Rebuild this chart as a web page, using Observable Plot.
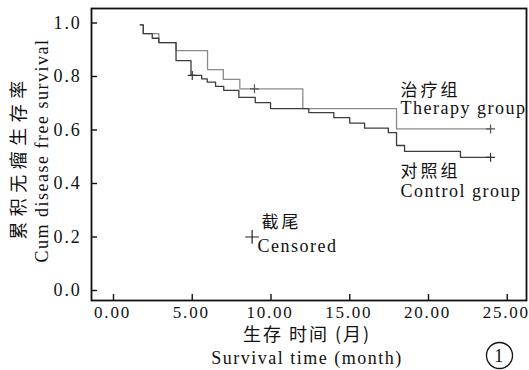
<!DOCTYPE html>
<html>
<head>
<meta charset="utf-8">
<script src="https://cdn.jsdelivr.net/npm/d3@7"></script>
<script src="https://cdn.jsdelivr.net/npm/@observablehq/plot@0.6"></script>
<style>
  html, body { margin: 0; padding: 0; background: #fff; }
  svg text { letter-spacing: 1.5px; }
  .cjk text, text.cjk { letter-spacing: 3px; }
  .cjky text, text.cjky { letter-spacing: 5.5px; }
  .cjkx text, text.cjkx { letter-spacing: 2px; }
  .ticklab text { letter-spacing: 1.8px; }
</style>
</head>
<body>
<div id="chart"></div>
<script>
// Therapy group: step times (months) and cumulative survival after each step
const therapyTime = [1.7, 1.89, 2.88, 3.97, 5.97, 6.97, 8.02, 12.02, 17.97, 23.94];
const therapySurv = [0.993, 0.96, 0.927, 0.897, 0.826, 0.789, 0.754, 0.68, 0.604, 0.604];
const therapyCensorTime = [8.95, 23.94];
const therapyCensorSurv = [0.754, 0.604];

// Control group
const controlTime = [1.7, 1.89, 2.46, 2.88, 3.97, 4.92, 5.6, 5.95, 6.48, 7.0, 7.96, 9.0, 9.97, 12.4, 13.99, 15.0, 15.94, 17.45, 17.97, 18.48, 22.03, 23.94];
const controlSurv = [0.993, 0.96, 0.943, 0.927, 0.859, 0.804, 0.791, 0.779, 0.763, 0.748, 0.722, 0.702, 0.68, 0.665, 0.646, 0.626, 0.607, 0.59, 0.542, 0.52, 0.498, 0.498];
const controlCensorTime = [5.0, 23.94];
const controlCensorSurv = [0.804, 0.498];

const xTicks = [0, 5, 10, 15, 20, 25];
const yTicks = [0, 0.2, 0.4, 0.6, 0.8, 1.0];

const therapy = therapyTime.map((t, i) => ({t, s: therapySurv[i]}));
const control = controlTime.map((t, i) => ({t, s: controlSurv[i]}));
const therapyCens = therapyCensorTime.map((t, i) => ({t, s: therapyCensorSurv[i]}));
const controlCens = controlCensorTime.map((t, i) => ({t, s: controlCensorSurv[i]}));

const serif = "'Liberation Serif', 'DejaVu Serif', serif";
const cjk = "'Noto Sans CJK SC', sans-serif";
const one = [0];

const chart = Plot.plot({
  width: 529,
  height: 370,
  marginLeft: 91,
  marginRight: 3,
  marginTop: 8,
  marginBottom: 70,
  style: {fontFamily: serif, fontSize: "18px", background: "#fff", color: "#111"},
  x: {domain: [-1.397, 26.222]},
  y: {domain: [-0.0374, 1.0542]},
  marks: [
    // inward ticks
    Plot.axisY({ticks: yTicks, tickSize: 6, dx: 6, tickFormat: () => "", label: null, stroke: "#111", strokeWidth: 1.4}),
    Plot.axisX({ticks: xTicks, tickSize: 6, dy: -6, tickFormat: () => "", label: null, stroke: "#111", strokeWidth: 1.4}),
    // tick labels
    Plot.axisY({ticks: yTicks, tickSize: 0, tickPadding: 10, tickFormat: d3.format(".1f"), label: null, fontSize: 18, className: "ticklab"}),
    Plot.axisX({ticks: xTicks, tickSize: 0, tickPadding: 5, tickFormat: d3.format(".2f"), label: null, fontSize: 17, dx: -1, className: "ticklab"}),
    Plot.frame({stroke: "#111", strokeWidth: 1.8}),
    // survival curves
    Plot.line(therapy, {x: "t", y: "s", curve: "step-after", stroke: "#8a8a8a", strokeWidth: 1.3}),
    Plot.line(control, {x: "t", y: "s", curve: "step-after", stroke: "#3c3c3c", strokeWidth: 1.3}),
    Plot.dot(therapyCens, {x: "t", y: "s", symbol: "plus", r: 3, stroke: "#555", strokeWidth: 1.2}),
    Plot.dot(controlCens, {x: "t", y: "s", symbol: "plus", r: 3, stroke: "#333", strokeWidth: 1.2}),
    // group labels
    Plot.text(one, {x: 18.22, y: 0.748, text: () => "治疗组", textAnchor: "start", fontFamily: cjk, fontSize: 17, className: "cjk"}),
    Plot.text(one, {x: 18.22, y: 0.68, text: () => "Therapy group", textAnchor: "start", fontSize: 18}),
    Plot.text(one, {x: 18.22, y: 0.445, text: () => "对照组", textAnchor: "start", fontFamily: cjk, fontSize: 17, className: "cjk"}),
    Plot.text(one, {x: 18.22, y: 0.37, text: () => "Control group", textAnchor: "start", fontSize: 18}),
    // censored legend
    Plot.dot(one, {x: 8.8, y: 0.2, symbol: "plus", r: 4.5, stroke: "#222", strokeWidth: 1.2}),
    Plot.text(one, {x: 9.4, y: 0.255, text: () => "截尾", textAnchor: "start", fontFamily: cjk, fontSize: 17, className: "cjk"}),
    Plot.text(one, {x: 9.14, y: 0.164, text: () => "Censored", textAnchor: "start", fontSize: 18}),
    // y axis titles
    Plot.text(one, {frameAnchor: "left", dx: -72, dy: 3, rotate: -90, textAnchor: "middle", lineAnchor: "middle", text: () => "累积无瘤生存率", fontFamily: cjk, fontSize: 18, className: "cjky"}),
    Plot.text(one, {frameAnchor: "left", dx: -49, dy: -4, rotate: -90, textAnchor: "middle", lineAnchor: "middle", text: () => "Cum disease free survival", fontSize: 18}),
    // x axis titles
    Plot.text(one, {frameAnchor: "bottom", dx: -2, dy: 35, textAnchor: "middle", lineAnchor: "middle", text: () => "生存 时间 (月)", fontFamily: cjk, fontSize: 18, className: "cjkx"}),
    Plot.text(one, {frameAnchor: "bottom", dx: -2, dy: 58, textAnchor: "middle", lineAnchor: "middle", text: () => "Survival time (month)", fontSize: 18}),
    // panel number
    Plot.dot(one, {frameAnchor: "bottom-right", dx: -27, dy: 55, r: 13, stroke: "#111", strokeWidth: 1.3, fill: "none"}),
    Plot.text(one, {frameAnchor: "bottom-right", dx: -27, dy: 56, textAnchor: "middle", lineAnchor: "middle", text: () => "1", fontSize: 18})
  ]
});
document.getElementById("chart").appendChild(chart);
</script>
</body>
</html>
